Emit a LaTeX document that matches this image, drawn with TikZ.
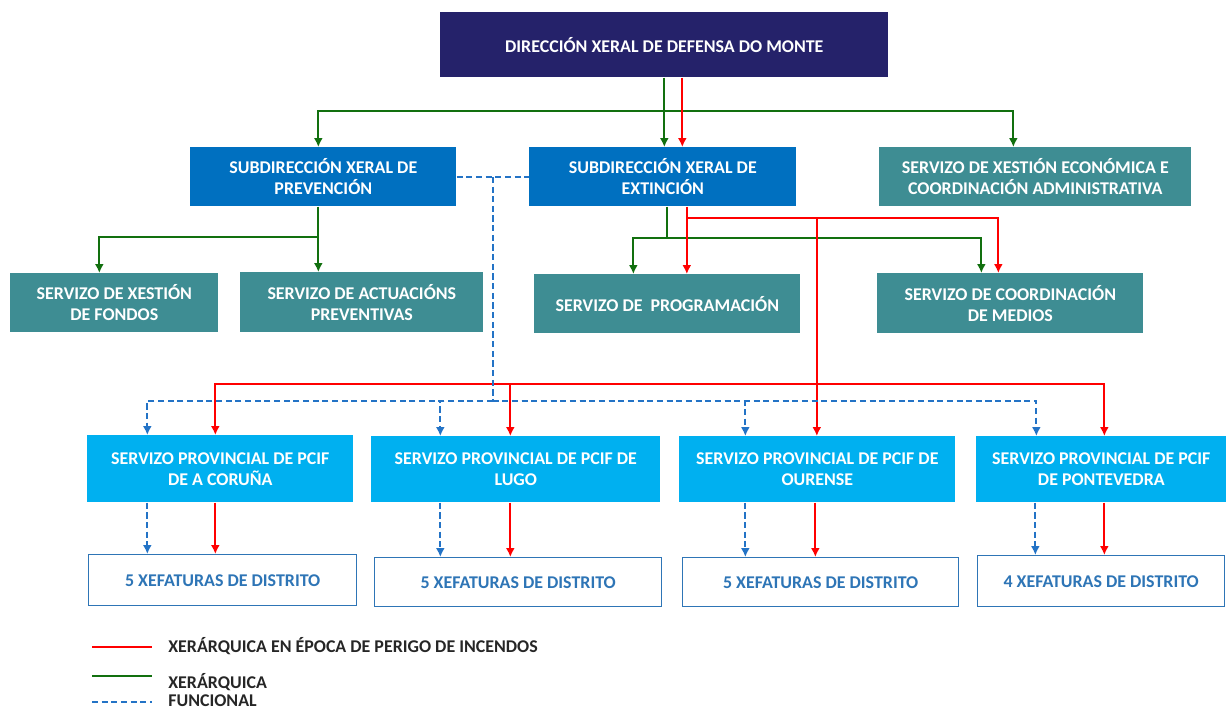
\documentclass[tikz,border=0pt]{standalone}
\usepackage{fontspec}
\setmainfont{Carlito}
\usepackage{tikz}
\usetikzlibrary{calc}
\usetikzlibrary{arrows.meta}

\definecolor{dirnavy}{HTML}{25226A}
\definecolor{subblue}{HTML}{0070C0}
\definecolor{servteal}{HTML}{3E8D93}
\definecolor{provcyan}{HTML}{00B0F0}
\definecolor{xefblue}{HTML}{2E75B6}
\definecolor{xergreen}{HTML}{12700F}
\definecolor{incred}{HTML}{FF0000}
\definecolor{funcblue}{HTML}{2373C6}

\begin{document}
\begin{tikzpicture}[x=0.02cm, y=-0.02cm,
  box/.style={rectangle, anchor=north west, inner sep=2pt, align=center, text=white, font=\fontsize{10.2}{11.9}\selectfont\bfseries},
  dirbox/.style={box, fill=dirnavy},
  subbox/.style={box, fill=subblue},
  servbox/.style={box, fill=servteal},
  provbox/.style={box, fill=provcyan},
  xefbox/.style={box, fill=white, draw=xefblue, thick, text=xefblue},
  legtext/.style={anchor=west, inner sep=0pt, text=black!85, font=\fontsize{10.2}{11}\selectfont\bfseries},
  xer/.style={draw=xergreen, line width=1.1pt},
  inc/.style={draw=incred, line width=1.1pt},
  func/.style={draw=funcblue, line width=1.1pt, dash pattern=on 3.5pt off 2pt},
  >={Latex[length=5pt,width=5pt]}]

\useasboundingbox (0,0) rectangle (1226,709);

% top level
\node at (440,12) [dirbox, minimum width=8.96cm, minimum height=1.3cm] (dir) {DIRECCIÓN XERAL DE DEFENSA DO MONTE};

\node at (190,147) [subbox, minimum width=5.32cm, minimum height=1.18cm] (prev) {SUBDIRECCIÓN XERAL DE\\ PREVENCIÓN};
\node at (529,147) [subbox, minimum width=5.34cm, minimum height=1.18cm] (ext) {SUBDIRECCIÓN XERAL DE\\ EXTINCIÓN};
\node at (879,147) [servbox, minimum width=6.24cm, minimum height=1.18cm] (econ) {SERVIZO DE XESTIÓN ECONÓMICA E\\ COORDINACIÓN ADMINISTRATIVA};

\node at (10,273) [servbox, minimum width=4.16cm, minimum height=1.18cm] (fond) {SERVIZO DE XESTIÓN\\ DE FONDOS};
\node at (240,272) [servbox, minimum width=4.86cm, minimum height=1.2cm] (actu) {SERVIZO DE ACTUACIÓNS\\ PREVENTIVAS};
\node at (534,274) [servbox, minimum width=5.32cm, minimum height=1.18cm] (prog) {SERVIZO DE\ \ PROGRAMACIÓN};
\node at (877,273) [servbox, minimum width=5.32cm, minimum height=1.2cm] (medi) {SERVIZO DE COORDINACIÓN\\ DE MEDIOS};

% provincial services
\node at (87,435) [provbox, minimum width=5.32cm, minimum height=1.34cm] (pcor) {SERVIZO PROVINCIAL DE PCIF\\ DE A CORUÑA};
\node at (371,436) [provbox, minimum width=5.78cm, minimum height=1.32cm] (plug) {SERVIZO PROVINCIAL DE PCIF DE\\ LUGO};
\node at (679,436) [provbox, minimum width=5.52cm, minimum height=1.32cm] (pour) {SERVIZO PROVINCIAL DE PCIF DE\\ OURENSE};
\node at (976,436) [provbox, minimum width=5.0cm, minimum height=1.32cm] (ppon) {SERVIZO PROVINCIAL DE PCIF\\ DE PONTEVEDRA};

\node at (88,554) [xefbox, minimum width=5.36cm, minimum height=1.02cm] (xcor) {5 XEFATURAS DE DISTRITO};
\node at (374,557) [xefbox, minimum width=5.74cm, minimum height=0.98cm] (xlug) {5 XEFATURAS DE DISTRITO};
\node at (682,557) [xefbox, minimum width=5.52cm, minimum height=0.98cm] (xour) {5 XEFATURAS DE DISTRITO};
\node at (977,555) [xefbox, minimum width=4.94cm, minimum height=1.02cm] (xpon) {4 XEFATURAS DE DISTRITO};

% xerarquica
\draw[xer, ->] (dir.south) -- (dir.south |- ext.north);
\coordinate (gb) at ($(dir.south)+(0,33)$);
\draw[xer, ->] (gb) -| ($(prev.north)+(-5,0)$);
\draw[xer, ->] (gb) -| ($(econ.north)+(-22,0)$);

\coordinate (pv) at ($(prev.south)+(-5,0)$);
\draw[xer, ->] (pv) -- (pv |- actu.north);
\draw[xer, ->] ($(pv)+(0,30)$) -| ($(fond.north)+(-15,0)$);

\coordinate (eg) at ($(ext.south)+(4,0)$);
\draw[xer] (eg) -- ++(0,31) coordinate (egb);
\draw[xer, ->] (egb) -| ($(prog.north)+(-34,0)$);
\draw[xer, ->] (egb) -| ($(medi.north)+(-29,0)$);

% xerarquica en epoca de perigo
\coordinate (r0) at ($(dir.south)+(18,0)$);
\draw[inc, ->] (r0) -- (r0 |- ext.north);

\coordinate (er) at ($(ext.south)+(24,0)$);
\draw[inc, ->] (er) -- (er |- prog.north);
\draw[inc, ->] ($(er)+(0,11)$) -| ($(medi.north)+(-12,0)$);

\coordinate (rv) at ($(er)+(130,11)$);
\draw[inc, ->] (rv) -- (rv |- pour.north);
\coordinate (rb) at ($(rv)+(0,166)$);
\draw[inc, ->] (rb) -| ($(pcor.north)+(-5,0)$);
\draw[inc, ->] (rb) -| ($(plug.north)+(-5.5,0)$);
\draw[inc, ->] (rb) -| ($(ppon.north)+(3,0)$);

% funcional
\draw[func] (prev.east) -- (ext.west);
\coordinate (fb) at ($(prev.east)+(36,0)$);
\draw[func] (fb) -- ++(0,224) coordinate (fbb);
\draw[func, ->] (fbb) -| ($(pcor.north)+(-73,0)$);
\draw[func, ->] (fbb) -| ($(plug.north)+(-75.5,0)$);
\draw[func, ->] (fbb) -| ($(pour.north)+(-72,0)$);
\draw[func, ->] (fbb) -| ($(ppon.north)+(-65,0)$);

\foreach \prov/\xef/\fo/\io in {pcor/xcor/-73/-5, plug/xlug/-75.5/-5.5, pour/xour/-72/-2, ppon/xpon/-66/3} {
  \draw[func, ->] ($(\prov.south)+(\fo,0)$) coordinate (tf) -- (tf |- \xef.north);
  \draw[inc, ->] ($(\prov.south)+(\io,0)$) coordinate (ti) -- (ti |- \xef.north);
}

% legend
\node at (168,646) [legtext] (leginc) {XERÁRQUICA EN ÉPOCA DE PERIGO DE INCENDOS};
\node at (168,682) [legtext] (legxer) {XERÁRQUICA};
\node at (168,701) [legtext] (legfunc) {FUNCIONAL};
\draw[inc] ($(leginc.west)+(-76,1)$) -- ++(60,0);
\draw[xer] ($(legxer.west)+(-76,-6)$) -- ++(60,0);
\draw[func] ($(legfunc.west)+(-76,1)$) -- ++(60,0);

\end{tikzpicture}
\end{document}
